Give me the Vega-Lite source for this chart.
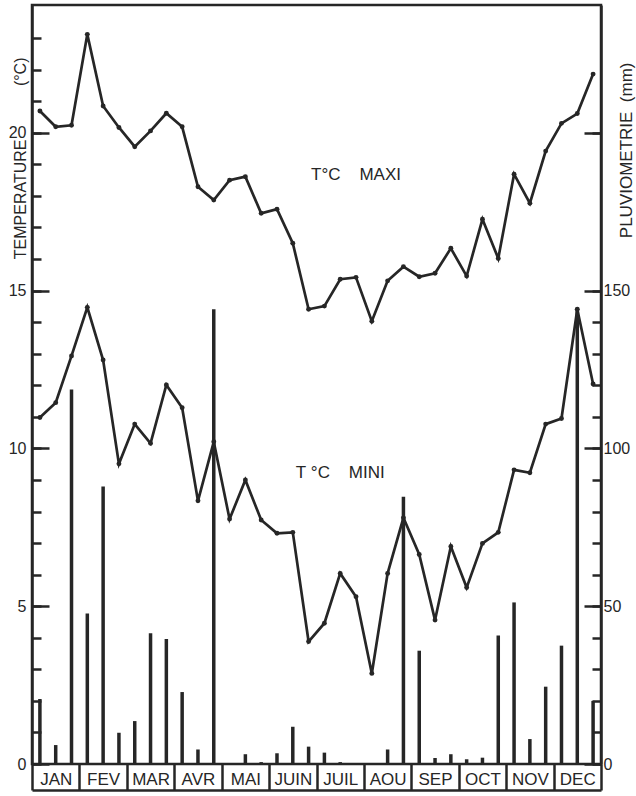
{
  "$schema": "https://vega.github.io/schema/vega-lite/v6.json",
  "width": 569,
  "height": 759,
  "autosize": "none",
  "padding": {"left": 32, "top": 5, "right": 35, "bottom": 32},
  "background": "white",
  "config": {
    "view": {"stroke": "#262626", "strokeWidth": 2.5},
    "font": "Liberation Sans"
  },
  "datasets": {
    "d": [
      {"m": "JAN", "d": 1, "i": 0, "tmax": 20.69, "tmin": 10.98, "rain": 20.6},
      {"m": "JAN", "d": 2, "i": 1, "tmax": 20.19, "tmin": 11.45, "rain": 6.0},
      {"m": "JAN", "d": 3, "i": 2, "tmax": 20.24, "tmin": 12.93, "rain": 118.7},
      {"m": "FEV", "d": 1, "i": 3, "tmax": 23.12, "tmin": 14.47, "rain": 47.7},
      {"m": "FEV", "d": 2, "i": 4, "tmax": 20.85, "tmin": 12.8, "rain": 87.9},
      {"m": "FEV", "d": 3, "i": 5, "tmax": 20.17, "tmin": 9.51, "rain": 9.9},
      {"m": "MAR", "d": 1, "i": 6, "tmax": 19.56, "tmin": 10.77, "rain": 13.6},
      {"m": "MAR", "d": 2, "i": 7, "tmax": 20.06, "tmin": 10.16, "rain": 41.4},
      {"m": "MAR", "d": 3, "i": 8, "tmax": 20.62, "tmin": 12.01, "rain": 39.6},
      {"m": "AVR", "d": 1, "i": 9, "tmax": 20.19, "tmin": 11.29, "rain": 22.8},
      {"m": "AVR", "d": 2, "i": 10, "tmax": 18.29, "tmin": 8.34, "rain": 4.6},
      {"m": "AVR", "d": 3, "i": 11, "tmax": 17.87, "tmin": 10.21, "rain": 144.1},
      {"m": "MAI", "d": 1, "i": 12, "tmax": 18.5, "tmin": 7.76, "rain": 0},
      {"m": "MAI", "d": 2, "i": 13, "tmax": 18.61, "tmin": 9.0, "rain": 3.1},
      {"m": "MAI", "d": 3, "i": 14, "tmax": 17.45, "tmin": 7.73, "rain": 0.6},
      {"m": "JUIN", "d": 1, "i": 15, "tmax": 17.58, "tmin": 7.31, "rain": 3.4},
      {"m": "JUIN", "d": 2, "i": 16, "tmax": 16.5, "tmin": 7.34, "rain": 11.8},
      {"m": "JUIN", "d": 3, "i": 17, "tmax": 14.41, "tmin": 3.88, "rain": 5.5},
      {"m": "JUIL", "d": 1, "i": 18, "tmax": 14.51, "tmin": 4.46, "rain": 3.6},
      {"m": "JUIL", "d": 2, "i": 19, "tmax": 15.36, "tmin": 6.04, "rain": 0.6},
      {"m": "JUIL", "d": 3, "i": 20, "tmax": 15.42, "tmin": 5.3, "rain": 0},
      {"m": "AOU", "d": 1, "i": 21, "tmax": 14.03, "tmin": 2.87, "rain": 0},
      {"m": "AOU", "d": 2, "i": 22, "tmax": 15.31, "tmin": 6.04, "rain": 4.6},
      {"m": "AOU", "d": 3, "i": 23, "tmax": 15.76, "tmin": 7.8, "rain": 84.7},
      {"m": "SEP", "d": 1, "i": 24, "tmax": 15.44, "tmin": 6.64, "rain": 35.9},
      {"m": "SEP", "d": 2, "i": 25, "tmax": 15.55, "tmin": 4.56, "rain": 1.9},
      {"m": "SEP", "d": 3, "i": 26, "tmax": 16.34, "tmin": 6.89, "rain": 3.1},
      {"m": "OCT", "d": 1, "i": 27, "tmax": 15.46, "tmin": 5.59, "rain": 1.5},
      {"m": "OCT", "d": 2, "i": 28, "tmax": 17.26, "tmin": 6.99, "rain": 2.0},
      {"m": "OCT", "d": 3, "i": 29, "tmax": 16.02, "tmin": 7.34, "rain": 40.7},
      {"m": "NOV", "d": 1, "i": 30, "tmax": 18.69, "tmin": 9.32, "rain": 51.2},
      {"m": "NOV", "d": 2, "i": 31, "tmax": 17.77, "tmin": 9.23, "rain": 7.9},
      {"m": "NOV", "d": 3, "i": 32, "tmax": 19.42, "tmin": 10.77, "rain": 24.5},
      {"m": "DEC", "d": 1, "i": 33, "tmax": 20.3, "tmin": 10.95, "rain": 37.5},
      {"m": "DEC", "d": 2, "i": 34, "tmax": 20.61, "tmin": 14.41, "rain": 144.4},
      {"m": "DEC", "d": 3, "i": 35, "tmax": 21.86, "tmin": 12.04, "rain": 20.0}
    ],
    "lab": [
      {"m": "JUIL", "d": 3, "temp": 18.66, "t": "T°C\u00a0\u00a0\u00a0\u00a0MAXI"},
      {"m": "JUIL", "d": 2, "temp": 9.22, "t": "T\u00a0°C\u00a0\u00a0\u00a0\u00a0MINI"}
    ]
  },
  "encoding": {
    "x": {
      "field": "m",
      "type": "nominal",
      "scale": {
        "domain": ["JAN", "FEV", "MAR", "AVR", "MAI", "JUIN", "JUIL", "AOU", "SEP", "OCT", "NOV", "DEC"],
        "paddingInner": 0,
        "paddingOuter": 0
      },
      "axis": {
        "title": null,
        "orient": "bottom",
        "offset": 26,
        "zindex": 3,
        "tickBand": "extent",
        "tickSize": -26,
        "tickWidth": 2.5,
        "tickColor": "#262626",
        "domainWidth": 2.5,
        "domainColor": "#262626",
        "labelAngle": 0,
        "labelPadding": 15,
        "labelBaseline": "middle",
        "labelFontSize": 17,
        "labelColor": "#262626",
        "labelFont": "Liberation Sans",
        "grid": false
      }
    },
    "xOffset": {
      "field": "d",
      "type": "nominal",
      "scale": {"domain": [1, 2, 3], "paddingInner": 0, "paddingOuter": 0}
    }
  },
  "layer": [
    {
      "data": {"name": "d"},
      "transform": [{"fold": ["tmax", "tmin"], "as": ["s", "temp"]}],
      "mark": {
        "type": "line",
        "color": "#262626",
        "strokeWidth": 2.7,
        "point": {"filled": true, "size": 24, "color": "#262626", "opacity": 1}
      },
      "encoding": {
        "y": {
          "field": "temp",
          "type": "quantitative",
          "scale": {"domain": [0, 24.05], "nice": false},
          "axis": {
            "orient": "left",
            "title": "TEMPERATURE\u00a0\u00a0\u00a0\u00a0\u00a0\u00a0\u00a0\u00a0\u00a0\u00a0\u00a0\u00a0(°C)",
            "values": [0, 1, 2, 3, 4, 5, 6, 7, 8, 9, 10, 11, 12, 13, 14, 15, 16, 17, 18, 19, 20, 21, 22, 23],
            "labelExpr": "datum.value % 5 === 0 ? datum.label : ''",
            "labelOverlap": false,
            "zindex": 3,
            "ticks": true,
            "tickSize": -9,
            "tickWidth": 2.5,
            "tickColor": "#262626",
            "grid": true,
            "gridDash": [17, 3000],
            "gridWidth": 2.5,
            "gridColor": "#262626",
            "gridOpacity": {"condition": {"test": "datum.value % 5 === 0", "value": 1}, "value": 0},
            "domainWidth": 2.5,
            "domainColor": "#262626",
            "labelPadding": 15,
            "labelFontSize": 16,
            "labelColor": "#262626",
            "labelFont": "Liberation Sans",
            "titleFont": "Liberation Sans",
            "titleFontSize": 16,
            "titleFontWeight": "normal",
            "titleColor": "#262626",
            "titleAngle": -90,
            "titleAlign": "right",
            "titleBaseline": "alphabetic",
            "titleX": -7,
            "titleY": 52
          }
        },
        "detail": {"field": "s"},
        "order": {"field": "i", "type": "quantitative"}
      }
    },
    {
      "data": {"name": "lab"},
      "mark": {"type": "text", "font": "Liberation Sans", "fontSize": 17, "color": "#262626", "align": "center", "baseline": "middle"},
      "encoding": {
        "y": {"field": "temp", "type": "quantitative", "scale": {"domain": [0, 24.05], "nice": false}, "axis": null},
        "text": {"field": "t"}
      }
    },
    {
      "data": {"name": "d"},
      "mark": {"type": "bar", "width": 3.5, "color": "#262626"},
      "encoding": {
        "y": {
          "field": "rain",
          "type": "quantitative",
          "scale": {"domain": [0, 240.5], "nice": false},
          "axis": {
            "orient": "right",
            "title": "PLUVIOMETRIE\u00a0\u00a0(mm)",
            "values": [0, 10, 20, 30, 40, 50, 60, 70, 80, 90, 100, 110, 120, 130, 140, 150, 200],
            "labelExpr": "datum.value % 50 === 0 && datum.value <= 150 ? datum.label : ''",
            "labelOverlap": false,
            "zindex": 3,
            "ticks": true,
            "tickSize": -9,
            "tickWidth": 2.5,
            "tickColor": "#262626",
            "grid": true,
            "gridDash": [17, 3000],
            "gridWidth": 2.5,
            "gridColor": "#262626",
            "gridOpacity": {"condition": {"test": "datum.value % 50 === 0", "value": 1}, "value": 0},
            "domainWidth": 2.5,
            "domainColor": "#262626",
            "labelPadding": 11,
            "labelFontSize": 16,
            "labelColor": "#262626",
            "labelFont": "Liberation Sans",
            "titleFont": "Liberation Sans",
            "titleFontSize": 17,
            "titleFontWeight": "normal",
            "titleColor": "#262626",
            "titleAngle": -90,
            "titleAlign": "right",
            "titleBaseline": "alphabetic",
            "titleX": 30,
            "titleY": 57
          }
        }
      }
    }
  ],
  "resolve": {"scale": {"y": "independent"}}
}
